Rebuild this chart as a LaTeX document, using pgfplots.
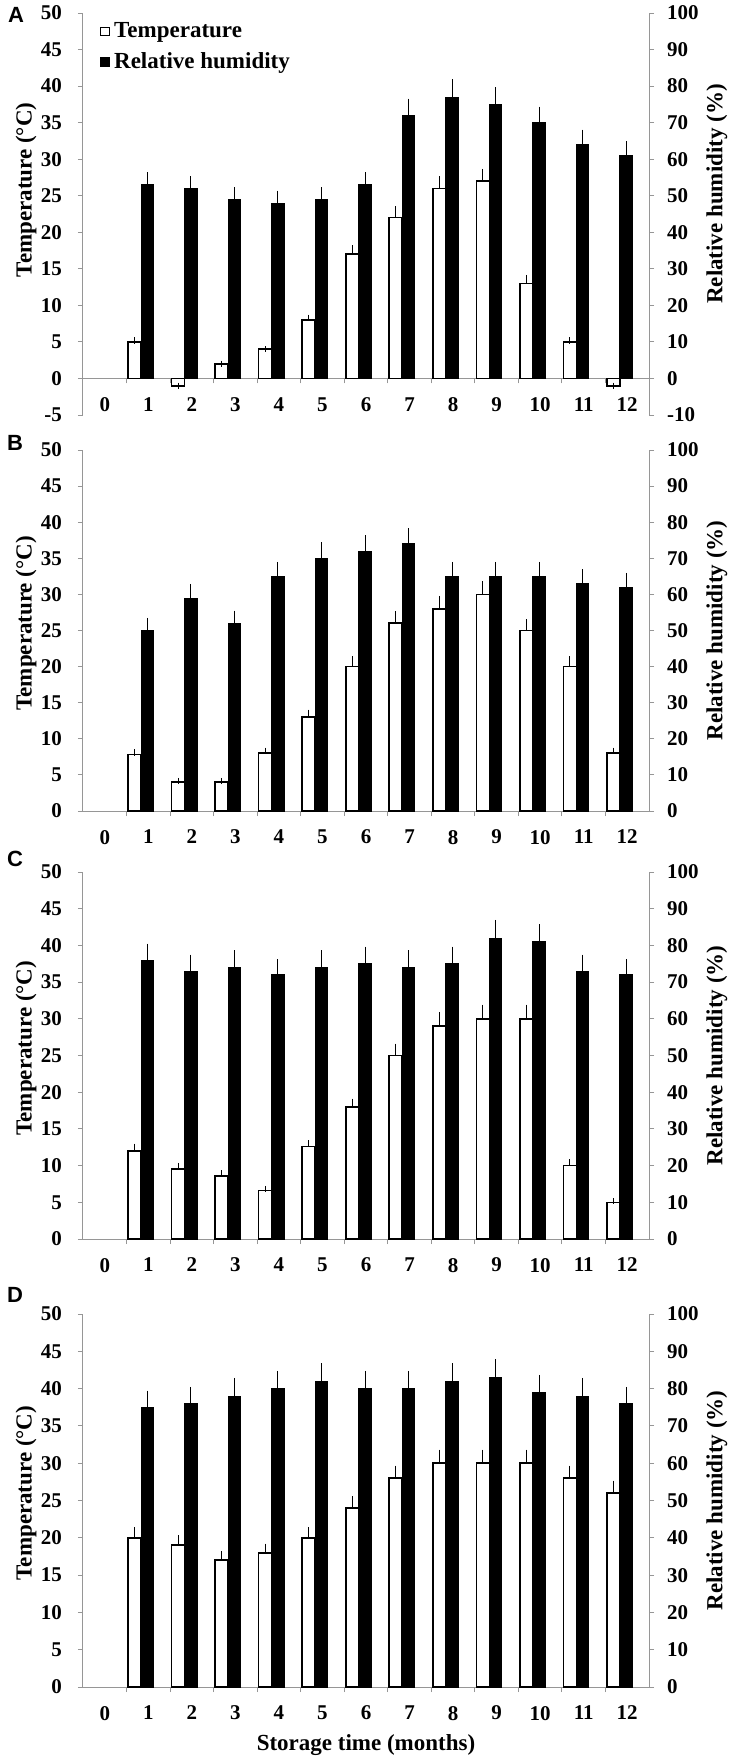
\documentclass[border=0pt]{standalone}
\usepackage{pgfplots}
\pgfplotsset{compat=1.18}
\usepackage{pgfplotstable}
\usepackage{fontspec}
\setmainfont{Liberation Serif}
\newfontfamily\letterfont{Liberation Sans}

\definecolor{axisgray}{RGB}{150,150,150}
\newcommand{\fnt}{\fontsize{10.5}{12}\selectfont\bfseries}
\newcommand{\lfnt}{\fontsize{11.5}{13}\selectfont\bfseries}

% month, temperature (C), its error, relative humidity (%), its error
\pgfplotstableread{
m  T     Te    H     He
1  5     0.2   53    2.5
2  -1    0     52    2.5
3  2     0     49    2.5
4  4     0     48    2.5
5  8     0.3   49    2.5
6  17    0.8   53    2.5
7  22    1.1   72    3.7
8  26    1.2   77    4.0
9  27    1.25  75    3.8
10 13    0.75  70    3.5
11 5     0.2   64    3.2
12 -1    0     61    3.0
}\dataA
\pgfplotstableread{
m  T     Te    H     He
1  7.8   0.3   50    2.6
2  4     0.15  59    3.0
3  4     0.15  52    2.6
4  8     0.35  65    3.1
5  13    0.6   70    3.6
6  20    1.0   72    3.5
7  26    1.25  74    3.5
8  28    1.35  65    3.1
9  30    1.4   65    3.1
10 25    1.15  65    3.1
11 20    1.0   63    3.1
12 8     0.35  62    3.1
}\dataB
\pgfplotstableread{
m  T     Te    H     He
1  12    0.55  76    3.6
2  9.5   0.45  73    3.6
3  8.6   0.3   74    3.8
4  6.6   0.2   72    3.4
5  12.6  0.45  74    3.8
6  18    0.7   75    3.8
7  25    1.2   74    3.8
8  29    1.45  75    3.8
9  30    1.5   82    4.1
10 30    1.5   81    3.9
11 10    0.45  73    3.6
12 5     0.15  72    3.4
}\dataC
\pgfplotstableread{
m  T     Te    H     He
1  20    1.0   75    3.6
2  19    0.9   76    3.6
3  17    0.8   78    4.0
4  18    0.8   80    3.9
5  20    1.0   82    4.0
6  24    1.15  80    3.9
7  28    1.25  80    3.9
8  30    1.4   82    4.0
9  30    1.4   83    4.0
10 30    1.4   79    3.8
11 28    1.25  78    4.0
12 26    1.25  76    3.6
}\dataD

\pgfplotsset{
  base/.style={
    scale only axis, width=283pt,
    xmin=-0.5, xmax=12.5,
    /pgf/number format/assume math mode=true,
    tick label style={font=\fnt},
    tick align=outside, major tick length=2.5pt,
    tick style={axisgray, line width=0.5pt},
    axis line style={axisgray, line width=0.5pt},
    hide obscured x ticks=false, hide obscured y ticks=false,
  },
  leftax/.style={base,
    axis y line*=left,
    ymax=50, ytick distance=5,
    yticklabel shift=4.5pt,
    xtick={0.5,1.5,...,11.5}, xticklabels={},
    extra x ticks={0,1,...,12},
    extra x tick style={major tick length=0pt},
    xticklabel shift=6pt,
    ylabel={Temperature (°C)},
  },
  rightax/.style={base,
    axis y line*=right, axis x line=none,
    ymax=100, ytick distance=10,
    yticklabel shift=3pt,
    ylabel={Relative humidity (\%)},
  },
  tbar/.style={ybar, bar width=6.5pt, bar shift=-6.9pt, fill=white, draw=black,
    line width=0.8pt, forget plot,
    error bars/.cd, y dir=plus, y explicit,
    error bar style={black, line width=0.5pt, xshift=-6.9pt},
    error mark options={black, line width=0.5pt, mark size=1.6pt, xshift=-6.9pt}},
  hbar/.style={ybar, bar width=6.3pt, bar shift=-0.5pt, fill=black, draw=black,
    line width=0.5pt, forget plot,
    error bars/.cd, y dir=plus, y explicit,
    error bar style={black, line width=0.5pt, xshift=-0.5pt},
    error mark options={black, line width=0.5pt, mark size=1.6pt, xshift=-0.5pt}},
}

\begin{document}
\begin{tikzpicture}
\useasboundingbox (0,0) rectangle (366.5pt,-881pt);

% ---- A ----
\begin{axis}[leftax, at={(41.5pt,-207.5pt)}, anchor=south west, height=201pt,
  ymin=-5, axis x line*=middle,
  every axis y label/.style={at={(axis description cs:-0.1007,0.56)}, anchor=center, rotate=90, font=\lfnt},
  legend style={at={(axis description cs:0.03,1)}, yshift=-2.5pt, anchor=north west,
    draw=none, fill=none, inner sep=0pt, font=\lfnt, row sep=2pt},
  legend cell align=left]
\addplot[tbar] table[x=m, y=T, y error=Te] {\dataA};
\addlegendimage{legend image code/.code={\draw[fill=white, draw=black, line width=0.5pt] (0pt,-2.2pt) rectangle (4.4pt,2.2pt);}}
\addlegendentry{Temperature}
\addlegendimage{legend image code/.code={\fill[black] (0pt,-2.2pt) rectangle (4.4pt,2.2pt);}}
\addlegendentry{Relative humidity}
\end{axis}
\begin{axis}[rightax, at={(41.5pt,-207.5pt)}, anchor=south west, height=201pt,
  ymin=-10,
  every axis y label/.style={at={(axis description cs:1.1201,0.55)}, anchor=center, rotate=90, font=\lfnt}]
\addplot[hbar] table[x=m, y=H, y error=He] {\dataA};
\end{axis}

% ---- B ----
\begin{axis}[leftax, at={(41.5pt,-405.5pt)}, anchor=south west, height=180.5pt,
  ymin=0, axis x line*=bottom,
  every axis y label/.style={at={(axis description cs:-0.1007,0.52)}, anchor=center, rotate=90, font=\lfnt}]
\addplot[tbar] table[x=m, y=T, y error=Te] {\dataB};
\end{axis}
\begin{axis}[rightax, at={(41.5pt,-405.5pt)}, anchor=south west, height=180.5pt,
  ymin=0,
  every axis y label/.style={at={(axis description cs:1.1201,0.5)}, anchor=center, rotate=90, font=\lfnt}]
\addplot[hbar] table[x=m, y=H, y error=He] {\dataB};
\end{axis}

% ---- C ----
\begin{axis}[leftax, at={(41.5pt,-619.5pt)}, anchor=south west, height=183.5pt,
  ymin=0, axis x line*=bottom,
  every axis y label/.style={at={(axis description cs:-0.1007,0.52)}, anchor=center, rotate=90, font=\lfnt}]
\addplot[tbar] table[x=m, y=T, y error=Te] {\dataC};
\end{axis}
\begin{axis}[rightax, at={(41.5pt,-619.5pt)}, anchor=south west, height=183.5pt,
  ymin=0,
  every axis y label/.style={at={(axis description cs:1.1201,0.5)}, anchor=center, rotate=90, font=\lfnt}]
\addplot[hbar] table[x=m, y=H, y error=He] {\dataC};
\end{axis}

% ---- D ----
\begin{axis}[leftax, at={(41.5pt,-843.5pt)}, anchor=south west, height=186.5pt,
  ymin=0, axis x line*=bottom,
  every axis y label/.style={at={(axis description cs:-0.1007,0.52)}, anchor=center, rotate=90, font=\lfnt},
  xlabel={Storage time (months)},
  every axis x label/.style={at={(axis description cs:0.5,-0.1555)}, anchor=center, font=\lfnt}]
\addplot[tbar] table[x=m, y=T, y error=Te] {\dataD};
\end{axis}
\begin{axis}[rightax, at={(41.5pt,-843.5pt)}, anchor=south west, height=186.5pt,
  ymin=0,
  every axis y label/.style={at={(axis description cs:1.1201,0.5)}, anchor=center, rotate=90, font=\lfnt}]
\addplot[hbar] table[x=m, y=H, y error=He] {\dataD};
\end{axis}

% panel letters
\begin{scope}[every node/.style={font=\letterfont\fontsize{11}{12}\selectfont\bfseries}]
\node at (8pt,-7.5pt) {A};
\node at (7.5pt,-221.5pt) {B};
\node at (7.5pt,-429.5pt) {C};
\node at (7.5pt,-647.5pt) {D};
\end{scope}
\end{tikzpicture}
\end{document}
